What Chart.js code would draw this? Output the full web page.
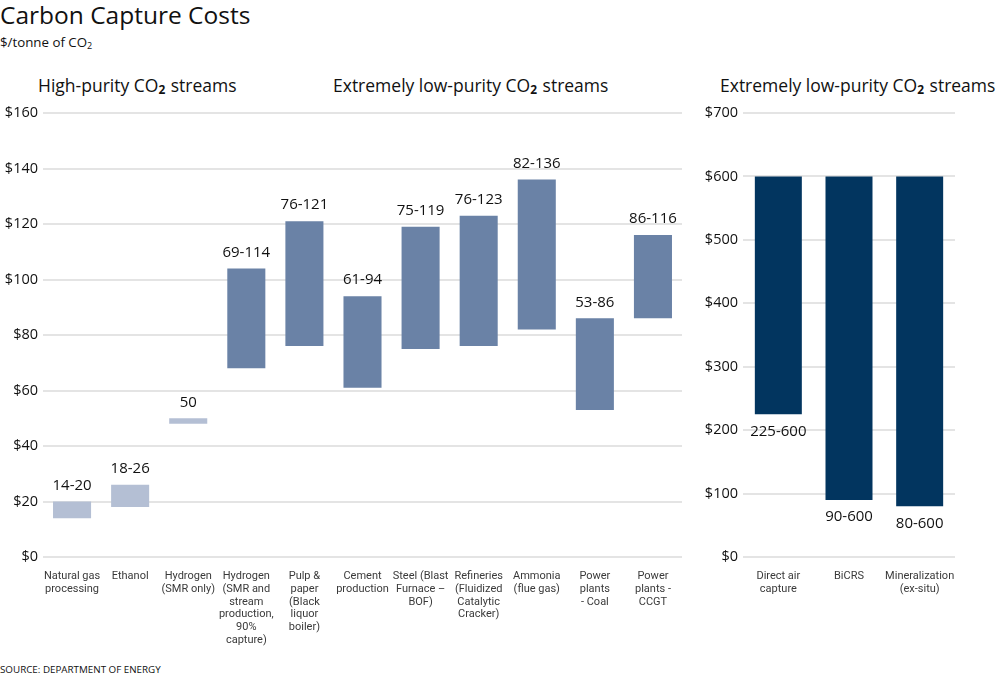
<!DOCTYPE html>
<html>
<head>
<meta charset="utf-8">
<script src="https://cdn.jsdelivr.net/npm/chart.js@4"></script>
<style>
  html,body{margin:0;padding:0;background:#fff;}
  body{width:1000px;height:678px;position:relative;overflow:hidden;font-family:"Open Sans",sans-serif;color:#111;}
  .t{position:absolute;white-space:nowrap;}
  #title{left:0;top:-2px;font-size:24.5px;line-height:34px;}
  #sub{left:0;top:33px;font-size:13.3px;line-height:18px;}
  .sec{font-size:17.5px;line-height:24px;top:73px;}
  .s2{font-size:0.68em;font-weight:700;position:relative;top:0.18em;margin-right:1px;}
  #src{left:0;top:663px;font-size:9.8px;line-height:14px;}
  #c1{position:absolute;left:0;top:0;}
  #c2{position:absolute;left:700px;top:0;}
</style>
</head>
<body>
<div class="t" id="title">Carbon Capture Costs</div>
<div class="t" id="sub">$/tonne of CO<span class="s2" style="font-weight:400">2</span></div>
<div class="t sec" style="left:38px">High-purity CO<span class="s2">2</span> streams</div>
<div class="t sec" style="left:333px">Extremely low-purity CO<span class="s2">2</span> streams</div>
<div class="t sec" style="left:720px">Extremely low-purity CO<span class="s2">2</span> streams</div>
<div class="t" id="src">SOURCE: DEPARTMENT OF ENERGY</div>
<canvas id="c1" width="700" height="678"></canvas>
<canvas id="c2" width="300" height="678"></canvas>
<script>
// ---- Left chart data ----
const leftCategories = [
  ["Natural gas","processing"],
  ["Ethanol"],
  ["Hydrogen","(SMR only)"],
  ["Hydrogen","(SMR and","stream","production,","90%","capture)"],
  ["Pulp &","paper","(Black","liquor","boiler)"],
  ["Cement","production"],
  ["Steel (Blast","Furnace –","BOF)"],
  ["Refineries","(Fluidized","Catalytic","Cracker)"],
  ["Ammonia","(flue gas)"],
  ["Power","plants","- Coal"],
  ["Power","plants -","CCGT"]
];
const leftLow  = [14, 18, 48, 68, 76, 61, 75, 76, 82, 53, 86];
const leftHigh = [20, 26, 50, 104, 121, 94, 119, 123, 136, 86, 116];
const leftLabels = ["14-20","18-26","50","69-114","76-121","61-94","75-119","76-123","82-136","53-86","86-116"];
const leftPurity = ["high","high","high","low","low","low","low","low","low","low","low"];
const leftTicks = [0, 20, 40, 60, 80, 100, 120, 140, 160];

// ---- Right chart data ----
const rightCategories = [["Direct air","capture"],["BiCRS"],["Mineralization","(ex-situ)"]];
const rightLow  = [225, 90, 80];
const rightHigh = [600, 600, 600];
const rightLabels = ["225-600","90-600","80-600"];
const rightTicks = [0, 100, 200, 300, 400, 500, 600, 700];

const COLORS = {high:"#b4bfd4", low:"#6a82a6", dark:"#02355f"};
const NUM_FONT = "15px 'Open Sans', sans-serif";

function valueLabelPlugin(labels, where){
  return {
    id:'vl',
    afterDatasetsDraw(chart){
      const ctx = chart.ctx;
      const meta = chart.getDatasetMeta(0);
      ctx.save();
      ctx.font = NUM_FONT;
      ctx.fillStyle = "#111";
      ctx.textAlign = "center";
      ctx.textBaseline = "middle";
      meta.data.forEach((el,i)=>{
        const top = Math.min(el.y, el.base), bot = Math.max(el.y, el.base);
        if(where==='above') ctx.fillText(labels[i], el.x, top - 16);
        else ctx.fillText(labels[i], el.x, bot + 17);
      });
      ctx.restore();
    }
  };
}

function makeOpts(ticks, yWidth, padRight){
  return {
    responsive:false,
    animation:false,
    devicePixelRatio:1,
    layout:{padding:{top:113,bottom:0,left:0,right:padRight}},
    plugins:{legend:{display:false},tooltip:{enabled:false}},
    scales:{
      x:{
        grid:{display:false,drawTicks:false},
        border:{display:false},
        ticks:{autoSkip:false,maxRotation:0,minRotation:0,padding:13,color:"#3a3a3a",
          font:{family:"Roboto, sans-serif",size:11,lineHeight:1.16}},
        afterFit(s){ s.height = 678-557; }
      },
      y:{
        min:ticks[0], max:ticks[ticks.length-1],
        afterBuildTicks(s){ s.ticks = ticks.map(v=>({value:v})); },
        grid:{color:"#e4e4e4",lineWidth:2,drawTicks:false},
        border:{display:false},
        ticks:{padding:5,color:"#111",font:{family:"'Open Sans', sans-serif",size:14.5},
          callback:v=>"$"+v},
        afterFit(s){ s.width = yWidth; }
      }
    }
  };
}

new Chart(document.getElementById('c1'),{
  type:'bar',
  data:{
    labels:leftCategories,
    datasets:[{
      data:leftLow.map((v,i)=>[v,leftHigh[i]]),
      backgroundColor:leftPurity.map(p=>COLORS[p]),
      borderWidth:0,
      barPercentage:0.655,
      categoryPercentage:1
    }]
  },
  options:makeOpts(leftTicks, 43, 18),
  plugins:[valueLabelPlugin(leftLabels,'above')]
});

new Chart(document.getElementById('c2'),{
  type:'bar',
  data:{
    labels:rightCategories,
    datasets:[{
      data:rightLow.map((v,i)=>[v,rightHigh[i]]),
      backgroundColor:COLORS.dark,
      borderWidth:0,
      barPercentage:0.665,
      categoryPercentage:1
    }]
  },
  options:makeOpts(rightTicks, 43, 45),
  plugins:[valueLabelPlugin(rightLabels,'below')]
});
</script>
</body>
</html>
